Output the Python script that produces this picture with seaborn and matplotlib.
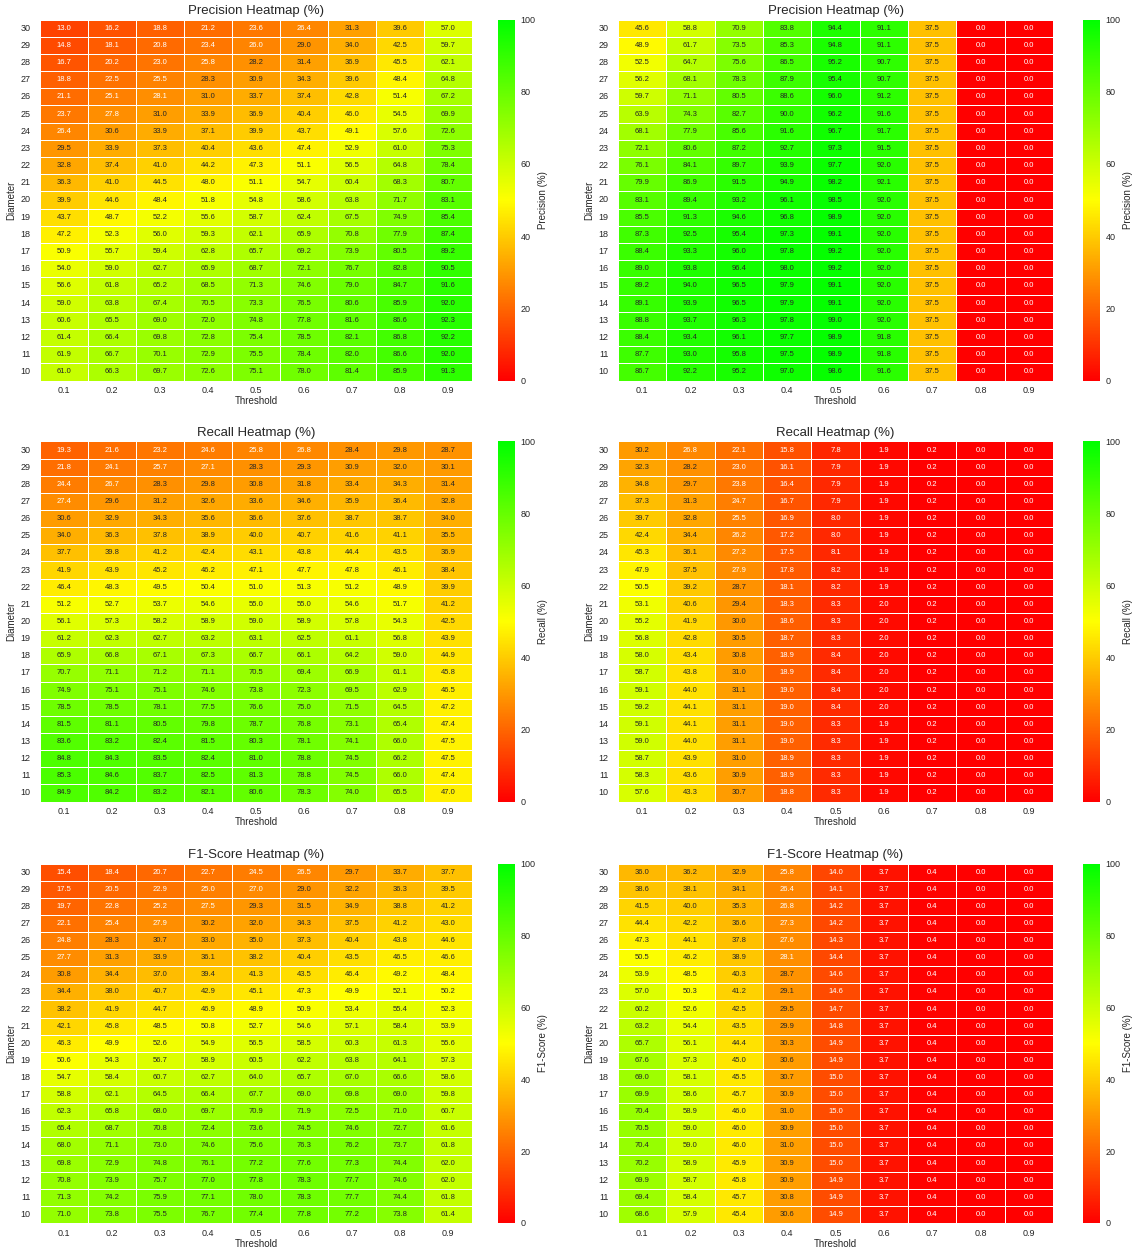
import matplotlib
matplotlib.use("Agg")
import matplotlib.pyplot as plt
import numpy as np
import pandas as pd
import seaborn as sns
from matplotlib.colors import LinearSegmentedColormap

# Axes labels
diameters = list(range(30, 9, -1))
thresholds = ["0.1", "0.2", "0.3", "0.4", "0.5", "0.6", "0.7", "0.8", "0.9"]

# Precision (%) - first method, rows are diameters 30 -> 10
precision_a = [
    [13.0, 16.2, 18.8, 21.2, 23.6, 26.4, 31.3, 39.6, 57.0],
    [14.8, 18.1, 20.8, 23.4, 26.0, 29.0, 34.0, 42.5, 59.7],
    [16.7, 20.2, 23.0, 25.8, 28.2, 31.4, 36.9, 45.5, 62.1],
    [18.8, 22.5, 25.5, 28.3, 30.9, 34.3, 39.6, 48.4, 64.8],
    [21.1, 25.1, 28.1, 31.0, 33.7, 37.4, 42.8, 51.4, 67.2],
    [23.7, 27.8, 31.0, 33.9, 36.9, 40.4, 46.0, 54.5, 69.9],
    [26.4, 30.6, 33.9, 37.1, 39.9, 43.7, 49.1, 57.6, 72.6],
    [29.5, 33.9, 37.3, 40.4, 43.6, 47.4, 52.9, 61.0, 75.3],
    [32.8, 37.4, 41.0, 44.2, 47.3, 51.1, 56.5, 64.8, 78.4],
    [36.3, 41.0, 44.5, 48.0, 51.1, 54.7, 60.4, 68.3, 80.7],
    [39.9, 44.6, 48.4, 51.8, 54.8, 58.6, 63.8, 71.7, 83.1],
    [43.7, 48.7, 52.2, 55.6, 58.7, 62.4, 67.5, 74.9, 85.4],
    [47.2, 52.3, 56.0, 59.3, 62.1, 65.9, 70.8, 77.9, 87.4],
    [50.9, 55.7, 59.4, 62.8, 65.7, 69.2, 73.9, 80.5, 89.2],
    [54.0, 59.0, 62.7, 65.9, 68.7, 72.1, 76.7, 82.8, 90.5],
    [56.6, 61.8, 65.2, 68.5, 71.3, 74.6, 79.0, 84.7, 91.6],
    [59.0, 63.8, 67.4, 70.5, 73.3, 76.5, 80.6, 85.9, 92.0],
    [60.6, 65.5, 69.0, 72.0, 74.8, 77.8, 81.6, 86.6, 92.3],
    [61.4, 66.4, 69.8, 72.8, 75.4, 78.5, 82.1, 86.8, 92.2],
    [61.9, 66.7, 70.1, 72.9, 75.5, 78.4, 82.0, 86.6, 92.0],
    [61.0, 66.3, 69.7, 72.6, 75.1, 78.0, 81.4, 85.9, 91.3],
]

# Precision (%) - second method
precision_b = [
    [45.6, 58.8, 70.9, 83.8, 94.4, 91.1, 37.5, 0.0, 0.0],
    [48.9, 61.7, 73.5, 85.3, 94.8, 91.1, 37.5, 0.0, 0.0],
    [52.5, 64.7, 75.6, 86.5, 95.2, 90.7, 37.5, 0.0, 0.0],
    [56.2, 68.1, 78.3, 87.9, 95.4, 90.7, 37.5, 0.0, 0.0],
    [59.7, 71.1, 80.5, 88.6, 96.0, 91.2, 37.5, 0.0, 0.0],
    [63.9, 74.3, 82.7, 90.0, 96.2, 91.6, 37.5, 0.0, 0.0],
    [68.1, 77.9, 85.6, 91.6, 96.7, 91.7, 37.5, 0.0, 0.0],
    [72.1, 80.6, 87.2, 92.7, 97.3, 91.5, 37.5, 0.0, 0.0],
    [76.1, 84.1, 89.7, 93.9, 97.7, 92.0, 37.5, 0.0, 0.0],
    [79.9, 86.9, 91.5, 94.9, 98.2, 92.1, 37.5, 0.0, 0.0],
    [83.1, 89.4, 93.2, 96.1, 98.5, 92.0, 37.5, 0.0, 0.0],
    [85.5, 91.3, 94.6, 96.8, 98.9, 92.0, 37.5, 0.0, 0.0],
    [87.3, 92.5, 95.4, 97.3, 99.1, 92.0, 37.5, 0.0, 0.0],
    [88.4, 93.3, 96.0, 97.8, 99.2, 92.0, 37.5, 0.0, 0.0],
    [89.0, 93.8, 96.4, 98.0, 99.2, 92.0, 37.5, 0.0, 0.0],
    [89.2, 94.0, 96.5, 97.9, 99.1, 92.0, 37.5, 0.0, 0.0],
    [89.1, 93.9, 96.5, 97.9, 99.1, 92.0, 37.5, 0.0, 0.0],
    [88.8, 93.7, 96.3, 97.8, 99.0, 92.0, 37.5, 0.0, 0.0],
    [88.4, 93.4, 96.1, 97.7, 98.9, 91.8, 37.5, 0.0, 0.0],
    [87.7, 93.0, 95.8, 97.5, 98.9, 91.8, 37.5, 0.0, 0.0],
    [86.7, 92.2, 95.2, 97.0, 98.6, 91.6, 37.5, 0.0, 0.0],
]

# Recall (%) - first method
recall_a = [
    [19.3, 21.6, 23.2, 24.6, 25.8, 26.8, 28.4, 29.8, 28.7],
    [21.8, 24.1, 25.7, 27.1, 28.3, 29.3, 30.9, 32.0, 30.1],
    [24.4, 26.7, 28.3, 29.8, 30.8, 31.8, 33.4, 34.3, 31.4],
    [27.4, 29.6, 31.2, 32.6, 33.6, 34.6, 35.9, 36.4, 32.8],
    [30.6, 32.9, 34.3, 35.6, 36.6, 37.6, 38.7, 38.7, 34.0],
    [34.0, 36.3, 37.8, 38.9, 40.0, 40.7, 41.6, 41.1, 35.5],
    [37.7, 39.8, 41.2, 42.4, 43.1, 43.8, 44.4, 43.5, 36.9],
    [41.9, 43.9, 45.2, 46.2, 47.1, 47.7, 47.8, 46.1, 38.4],
    [46.4, 48.3, 49.5, 50.4, 51.0, 51.3, 51.2, 48.9, 39.9],
    [51.2, 52.7, 53.7, 54.6, 55.0, 55.0, 54.6, 51.7, 41.2],
    [56.1, 57.3, 58.2, 58.9, 59.0, 58.9, 57.8, 54.3, 42.5],
    [61.2, 62.3, 62.7, 63.2, 63.1, 62.5, 61.1, 56.8, 43.9],
    [65.9, 66.8, 67.1, 67.3, 66.7, 66.1, 64.2, 59.0, 44.9],
    [70.7, 71.1, 71.2, 71.1, 70.5, 69.4, 66.9, 61.1, 45.8],
    [74.9, 75.1, 75.1, 74.6, 73.8, 72.3, 69.5, 62.9, 46.5],
    [78.5, 78.5, 78.1, 77.5, 76.6, 75.0, 71.5, 64.5, 47.2],
    [81.5, 81.1, 80.5, 79.8, 78.7, 76.8, 73.1, 65.4, 47.4],
    [83.6, 83.2, 82.4, 81.5, 80.3, 78.1, 74.1, 66.0, 47.5],
    [84.8, 84.3, 83.5, 82.4, 81.0, 78.8, 74.5, 66.2, 47.5],
    [85.3, 84.6, 83.7, 82.5, 81.3, 78.8, 74.5, 66.0, 47.4],
    [84.9, 84.2, 83.2, 82.1, 80.6, 78.3, 74.0, 65.5, 47.0],
]

# Recall (%) - second method
recall_b = [
    [30.2, 26.8, 22.1, 15.8, 7.8, 1.9, 0.2, 0.0, 0.0],
    [32.3, 28.2, 23.0, 16.1, 7.9, 1.9, 0.2, 0.0, 0.0],
    [34.8, 29.7, 23.8, 16.4, 7.9, 1.9, 0.2, 0.0, 0.0],
    [37.3, 31.3, 24.7, 16.7, 7.9, 1.9, 0.2, 0.0, 0.0],
    [39.7, 32.8, 25.5, 16.9, 8.0, 1.9, 0.2, 0.0, 0.0],
    [42.4, 34.4, 26.2, 17.2, 8.0, 1.9, 0.2, 0.0, 0.0],
    [45.3, 36.1, 27.2, 17.5, 8.1, 1.9, 0.2, 0.0, 0.0],
    [47.9, 37.5, 27.9, 17.8, 8.2, 1.9, 0.2, 0.0, 0.0],
    [50.5, 39.2, 28.7, 18.1, 8.2, 1.9, 0.2, 0.0, 0.0],
    [53.1, 40.6, 29.4, 18.3, 8.3, 2.0, 0.2, 0.0, 0.0],
    [55.2, 41.9, 30.0, 18.6, 8.3, 2.0, 0.2, 0.0, 0.0],
    [56.8, 42.8, 30.5, 18.7, 8.3, 2.0, 0.2, 0.0, 0.0],
    [58.0, 43.4, 30.8, 18.9, 8.4, 2.0, 0.2, 0.0, 0.0],
    [58.7, 43.8, 31.0, 18.9, 8.4, 2.0, 0.2, 0.0, 0.0],
    [59.1, 44.0, 31.1, 19.0, 8.4, 2.0, 0.2, 0.0, 0.0],
    [59.2, 44.1, 31.1, 19.0, 8.4, 2.0, 0.2, 0.0, 0.0],
    [59.1, 44.1, 31.1, 19.0, 8.3, 1.9, 0.2, 0.0, 0.0],
    [59.0, 44.0, 31.1, 19.0, 8.3, 1.9, 0.2, 0.0, 0.0],
    [58.7, 43.9, 31.0, 18.9, 8.3, 1.9, 0.2, 0.0, 0.0],
    [58.3, 43.6, 30.9, 18.9, 8.3, 1.9, 0.2, 0.0, 0.0],
    [57.6, 43.3, 30.7, 18.8, 8.3, 1.9, 0.2, 0.0, 0.0],
]

# F1-score (%) - first method
f1_a = [
    [15.4, 18.4, 20.7, 22.7, 24.5, 26.5, 29.7, 33.7, 37.7],
    [17.5, 20.5, 22.9, 25.0, 27.0, 29.0, 32.2, 36.3, 39.5],
    [19.7, 22.8, 25.2, 27.5, 29.3, 31.5, 34.9, 38.8, 41.2],
    [22.1, 25.4, 27.9, 30.2, 32.0, 34.3, 37.5, 41.2, 43.0],
    [24.8, 28.3, 30.7, 33.0, 35.0, 37.3, 40.4, 43.8, 44.6],
    [27.7, 31.3, 33.9, 36.1, 38.2, 40.4, 43.5, 46.5, 46.6],
    [30.8, 34.4, 37.0, 39.4, 41.3, 43.5, 46.4, 49.2, 48.4],
    [34.4, 38.0, 40.7, 42.9, 45.1, 47.3, 49.9, 52.1, 50.2],
    [38.2, 41.9, 44.7, 46.9, 48.9, 50.9, 53.4, 55.4, 52.3],
    [42.1, 45.8, 48.5, 50.8, 52.7, 54.6, 57.1, 58.4, 53.9],
    [46.3, 49.9, 52.6, 54.9, 56.5, 58.5, 60.3, 61.3, 55.6],
    [50.6, 54.3, 56.7, 58.9, 60.5, 62.2, 63.8, 64.1, 57.3],
    [54.7, 58.4, 60.7, 62.7, 64.0, 65.7, 67.0, 66.6, 58.6],
    [58.8, 62.1, 64.5, 66.4, 67.7, 69.0, 69.8, 69.0, 59.8],
    [62.3, 65.8, 68.0, 69.7, 70.9, 71.9, 72.5, 71.0, 60.7],
    [65.4, 68.7, 70.8, 72.4, 73.6, 74.5, 74.6, 72.7, 61.6],
    [68.0, 71.1, 73.0, 74.6, 75.6, 76.3, 76.2, 73.7, 61.8],
    [69.8, 72.9, 74.8, 76.1, 77.2, 77.6, 77.3, 74.4, 62.0],
    [70.8, 73.9, 75.7, 77.0, 77.8, 78.3, 77.7, 74.6, 62.0],
    [71.3, 74.2, 75.9, 77.1, 78.0, 78.3, 77.7, 74.4, 61.8],
    [71.0, 73.8, 75.5, 76.7, 77.4, 77.8, 77.2, 73.8, 61.4],
]

# F1-score (%) - second method
f1_b = [
    [36.0, 36.2, 32.9, 25.8, 14.0, 3.7, 0.4, 0.0, 0.0],
    [38.6, 38.1, 34.1, 26.4, 14.1, 3.7, 0.4, 0.0, 0.0],
    [41.5, 40.0, 35.3, 26.8, 14.2, 3.7, 0.4, 0.0, 0.0],
    [44.4, 42.2, 36.6, 27.3, 14.2, 3.7, 0.4, 0.0, 0.0],
    [47.3, 44.1, 37.8, 27.6, 14.3, 3.7, 0.4, 0.0, 0.0],
    [50.5, 46.2, 38.9, 28.1, 14.4, 3.7, 0.4, 0.0, 0.0],
    [53.9, 48.5, 40.3, 28.7, 14.6, 3.7, 0.4, 0.0, 0.0],
    [57.0, 50.3, 41.2, 29.1, 14.6, 3.7, 0.4, 0.0, 0.0],
    [60.2, 52.6, 42.5, 29.5, 14.7, 3.7, 0.4, 0.0, 0.0],
    [63.2, 54.4, 43.5, 29.9, 14.8, 3.7, 0.4, 0.0, 0.0],
    [65.7, 56.1, 44.4, 30.3, 14.9, 3.7, 0.4, 0.0, 0.0],
    [67.6, 57.3, 45.0, 30.6, 14.9, 3.7, 0.4, 0.0, 0.0],
    [69.0, 58.1, 45.5, 30.7, 15.0, 3.7, 0.4, 0.0, 0.0],
    [69.9, 58.6, 45.7, 30.9, 15.0, 3.7, 0.4, 0.0, 0.0],
    [70.4, 58.9, 46.0, 31.0, 15.0, 3.7, 0.4, 0.0, 0.0],
    [70.5, 59.0, 46.0, 30.9, 15.0, 3.7, 0.4, 0.0, 0.0],
    [70.4, 59.0, 46.0, 31.0, 15.0, 3.7, 0.4, 0.0, 0.0],
    [70.2, 58.9, 45.9, 30.9, 15.0, 3.7, 0.4, 0.0, 0.0],
    [69.9, 58.7, 45.8, 30.9, 14.9, 3.7, 0.4, 0.0, 0.0],
    [69.4, 58.4, 45.7, 30.8, 14.9, 3.7, 0.4, 0.0, 0.0],
    [68.6, 57.9, 45.4, 30.6, 14.9, 3.7, 0.4, 0.0, 0.0],
]

metric_names = ["Precision", "Recall", "F1-Score"]
metric_data = [(precision_a, precision_b), (recall_a, recall_b), (f1_a, f1_b)]

sns.set_theme(style="white")
plt.rcParams["font.family"] = ["Liberation Sans", "DejaVu Sans"]

cmap = LinearSegmentedColormap.from_list("red_yellow_green", ["#ff0000", "#ffff00", "#00ff00"])

W, H = 1135, 1249
fig = plt.figure(figsize=(W / 100, H / 100), dpi=100)


def pixel_axes(x0, y0, x1, y1):
    return fig.add_axes([x0 / W, 1 - y1 / H, (x1 - x0) / W, (y1 - y0) / H])


col_boxes = [(40, 472, 498, 515), (618, 1053, 1083, 1100)]
row_boxes = [(19.5, 380.5), (441.5, 801.5), (863.5, 1223)]

for r, (name, pair) in enumerate(zip(metric_names, metric_data)):
    y0, y1 = row_boxes[r]
    for c, values in enumerate(pair):
        hx0, hx1, cx0, cx1 = col_boxes[c]
        ax = pixel_axes(hx0, y0, hx1, y1)
        cax = pixel_axes(cx0, y0, cx1, y1)
        df = pd.DataFrame(values, index=diameters, columns=thresholds)
        sns.heatmap(
            df, ax=ax, cbar_ax=cax, cmap=cmap, vmin=0, vmax=100,
            annot=True, fmt=".1f", annot_kws={"size": 5.5},
            linewidths=0.5, linecolor="white",
            cbar_kws={"ticks": [0, 20, 40, 60, 80, 100]},
        )
        ax.set_title(f"{name} Heatmap (%)", fontsize=9.5, pad=4)
        ax.set_xlabel("Threshold", fontsize=7, labelpad=1)
        ax.set_ylabel("Diameter", fontsize=7, labelpad=3)
        ax.tick_params(axis="x", labelsize=6.5, length=0, pad=4)
        ax.tick_params(axis="y", labelsize=6.5, length=0, pad=7)
        ax.set_yticklabels(ax.get_yticklabels(), rotation=0)
        ax.set_xticklabels(ax.get_xticklabels(), rotation=0)
        cax.tick_params(labelsize=6.5, length=0, pad=4)
        cax.set_ylabel(f"{name} (%)", fontsize=7, labelpad=2)

fig.savefig("out.png", dpi=100)
